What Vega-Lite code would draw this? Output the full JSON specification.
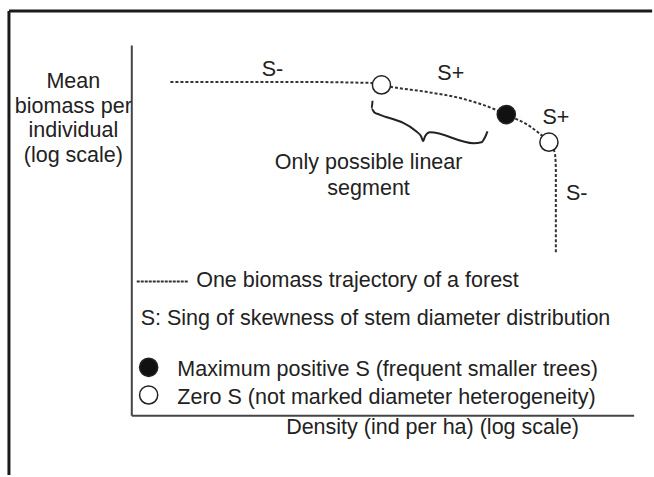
{
  "$schema": "https://vega.github.io/schema/vega-lite/v6.json",
  "width": 654,
  "height": 477,
  "autosize": {"type": "fit", "contains": "padding"},
  "padding": 0,
  "background": "white",
  "config": {"view": {"stroke": null}},
  "datasets": {
    "frame": [
      {"x": -24.55, "y": 109.33, "x2": 104, "y2": 109.33},
      {"x": -24.55, "y": 109.33, "x2": -24.55, "y2": -16}
    ],
    "axes": [
      {"x": 0, "y": 100, "x2": 0, "y2": 0},
      {"x": 0, "y": 0, "x2": 100.4, "y2": 0}
    ],
    "curve": [
      {"i": 0, "x": 7.72, "y": 90.13},
      {"i": 1, "x": 33.07, "y": 90.13},
      {"i": 2, "x": 47.92, "y": 89.87},
      {"i": 3, "x": 49.9, "y": 89.33},
      {"i": 4, "x": 51.88, "y": 88.8},
      {"i": 5, "x": 58.81, "y": 87.47},
      {"i": 6, "x": 66.14, "y": 85.6},
      {"i": 7, "x": 72.67, "y": 82.67},
      {"i": 8, "x": 74.85, "y": 81.33},
      {"i": 9, "x": 79.6, "y": 78.13},
      {"i": 10, "x": 82.57, "y": 74.93},
      {"i": 11, "x": 83.37, "y": 73.87},
      {"i": 12, "x": 84.55, "y": 70.93},
      {"i": 13, "x": 84.75, "y": 66.93},
      {"i": 14, "x": 84.75, "y": 43.73}
    ],
    "legendline": [
      {"i": 0, "x": 0.99, "y": 36.27},
      {"i": 1, "x": 11.3, "y": 36.27}
    ],
    "brace": [
      {"i": 0, "x": 48.12, "y": 85.07},
      {"i": 1, "x": 47.92, "y": 82.93},
      {"i": 2, "x": 48.51, "y": 81.87},
      {"i": 3, "x": 49.5, "y": 81.33},
      {"i": 4, "x": 56.83, "y": 76.8},
      {"i": 5, "x": 57.82, "y": 75.47},
      {"i": 6, "x": 58.22, "y": 74.13},
      {"i": 7, "x": 58.61, "y": 75.47},
      {"i": 8, "x": 59.6, "y": 76.53},
      {"i": 9, "x": 68.32, "y": 73.6},
      {"i": 10, "x": 69.9, "y": 73.87},
      {"i": 11, "x": 70.69, "y": 75.47},
      {"i": 12, "x": 71.09, "y": 76.8}
    ],
    "points": [
      {"x": 49.9, "y": 89.33, "kind": "Zero S"},
      {"x": 83.37, "y": 73.87, "kind": "Zero S"},
      {"x": 74.85, "y": 81.33, "kind": "Maximum positive S"},
      {"x": 3.37, "y": 13.07, "kind": "Maximum positive S"},
      {"x": 3.37, "y": 5.6, "kind": "Zero S"}
    ],
    "centertext": [
      {"x": -11.68, "y": 90.13, "text": "Mean"},
      {"x": -11.68, "y": 83.47, "text": "biomass per"},
      {"x": -11.68, "y": 76.8, "text": "individual"},
      {"x": -11.68, "y": 70.13, "text": "(log scale)"},
      {"x": 28.12, "y": 93.33, "text": "S-"},
      {"x": 63.76, "y": 92.4, "text": "S+"},
      {"x": 84.75, "y": 80.4, "text": "S+"},
      {"x": 88.91, "y": 59.87, "text": "S-"},
      {"x": 47.33, "y": 68.27, "text": "Only possible linear"},
      {"x": 47.33, "y": 61.33, "text": "segment"},
      {"x": 60.1, "y": -3.33, "text": "Density (ind per ha) (log scale)"}
    ],
    "lefttext": [
      {"x": 12.87, "y": 36.27, "text": "One biomass trajectory of a forest"},
      {"x": 1.78, "y": 26.13, "text": "S: Sing of skewness of stem diameter distribution"},
      {"x": 9.11, "y": 12.27, "text": "Maximum positive S (frequent smaller trees)"},
      {"x": 9.11, "y": 4.8, "text": "Zero S (not marked diameter heterogeneity)"}
    ]
  },
  "encoding": {
    "x": {"field": "x", "type": "quantitative", "scale": {"domain": [-26.34, 103.17], "nice": false, "zero": false}, "axis": null},
    "y": {"field": "y", "type": "quantitative", "scale": {"domain": [-14.93, 112.27], "nice": false, "zero": false}, "axis": null}
  },
  "layer": [
    {
      "data": {"name": "frame"},
      "mark": {"type": "rule", "color": "#1a1a1a", "strokeWidth": 3},
      "encoding": {"x2": {"field": "x2"}, "y2": {"field": "y2"}}
    },
    {
      "data": {"name": "axes"},
      "mark": {"type": "rule", "color": "#444", "strokeWidth": 2},
      "encoding": {"x2": {"field": "x2"}, "y2": {"field": "y2"}}
    },
    {
      "data": {"name": "curve"},
      "mark": {"type": "line", "color": "#333", "strokeWidth": 2, "strokeDash": [3, 2], "interpolate": "monotone"},
      "encoding": {"order": {"field": "i", "type": "quantitative"}}
    },
    {
      "data": {"name": "legendline"},
      "mark": {"type": "line", "color": "#333", "strokeWidth": 2, "strokeDash": [3, 1]},
      "encoding": {"order": {"field": "i", "type": "quantitative"}}
    },
    {
      "data": {"name": "brace"},
      "mark": {"type": "line", "color": "#222", "strokeWidth": 2, "interpolate": "monotone"},
      "encoding": {"order": {"field": "i", "type": "quantitative"}}
    },
    {
      "data": {"name": "points"},
      "mark": {"type": "point", "shape": "circle", "size": 330, "stroke": "#222", "strokeWidth": 1.5, "filled": false, "opacity": 1},
      "encoding": {
        "fill": {"field": "kind", "type": "nominal", "scale": {"domain": ["Maximum positive S", "Zero S"], "range": ["#111", "#ffffff"]}, "legend": null},
        "color": {"value": "#222"}
      }
    },
    {
      "data": {"name": "centertext"},
      "mark": {"type": "text", "font": "Liberation Sans", "fontSize": 21.5, "color": "#222", "align": "center", "baseline": "middle"},
      "encoding": {"text": {"field": "text"}}
    },
    {
      "data": {"name": "lefttext"},
      "mark": {"type": "text", "font": "Liberation Sans", "fontSize": 21.5, "color": "#222", "align": "left", "baseline": "middle"},
      "encoding": {"text": {"field": "text"}}
    }
  ]
}
